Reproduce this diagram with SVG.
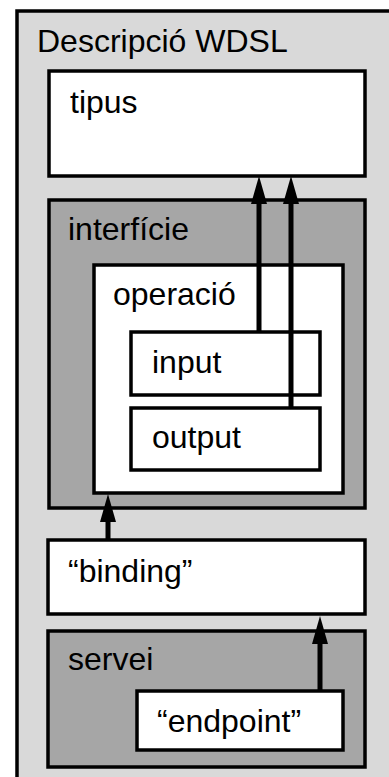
<svg xmlns="http://www.w3.org/2000/svg" width="389" height="777" viewBox="0 0 389 777">
<style>
.box{stroke:#000;stroke-width:3.5;}
.light{fill:#d9d9d9;}
.dark{fill:#a6a6a6;}
.white{fill:#fff;}
text{font-family:"Liberation Sans",Arial,sans-serif;font-size:32px;fill:#000;}
.conn{stroke:#000;stroke-width:5;fill:none;marker-end:url(#arr);}
</style>
<defs>
<marker id="arr" viewBox="0 0 28 16" refX="14" refY="8" markerWidth="28" markerHeight="16" markerUnits="userSpaceOnUse" orient="auto">
<path d="M0,0 L28,8 L0,16 Z" fill="#000"/>
</marker>
</defs>
<g id="descripcio">
<rect class="box light" x="17" y="11" width="420" height="820"/>
<text x="37" y="52">Descripció WDSL</text>
</g>
<g id="tipus">
<rect class="box white" x="49" y="71" width="316" height="105"/>
<text x="70" y="113">tipus</text>
</g>
<g id="interficie">
<rect class="box dark" x="49" y="200" width="316" height="308"/>
<text x="68" y="240">interfície</text>
</g>
<g id="operacio">
<rect class="box white" x="94" y="265" width="249" height="228"/>
<text x="113" y="305">operació</text>
</g>
<g id="input">
<rect class="box white" x="131" y="332" width="189" height="63"/>
<text x="152" y="373">input</text>
</g>
<g id="output">
<rect class="box white" x="131" y="408" width="189" height="62"/>
<text x="152" y="448">output</text>
</g>
<g id="binding">
<rect class="box white" x="48" y="540" width="317" height="74"/>
<text x="68" y="582">“binding”</text>
</g>
<g id="servei">
<rect class="box dark" x="48" y="631" width="317" height="136"/>
<text x="68" y="670">servei</text>
</g>
<g id="endpoint">
<rect class="box white" x="137" y="691" width="206" height="59"/>
<text x="157" y="732">“endpoint”</text>
</g>
<g id="connectors">
<path class="conn" d="M259,332 V190"/>
<path class="conn" d="M291,408 V190"/>
<path class="conn" d="M108,540 V508"/>
<path class="conn" d="M320,691 V630"/>
</g>
</svg>
